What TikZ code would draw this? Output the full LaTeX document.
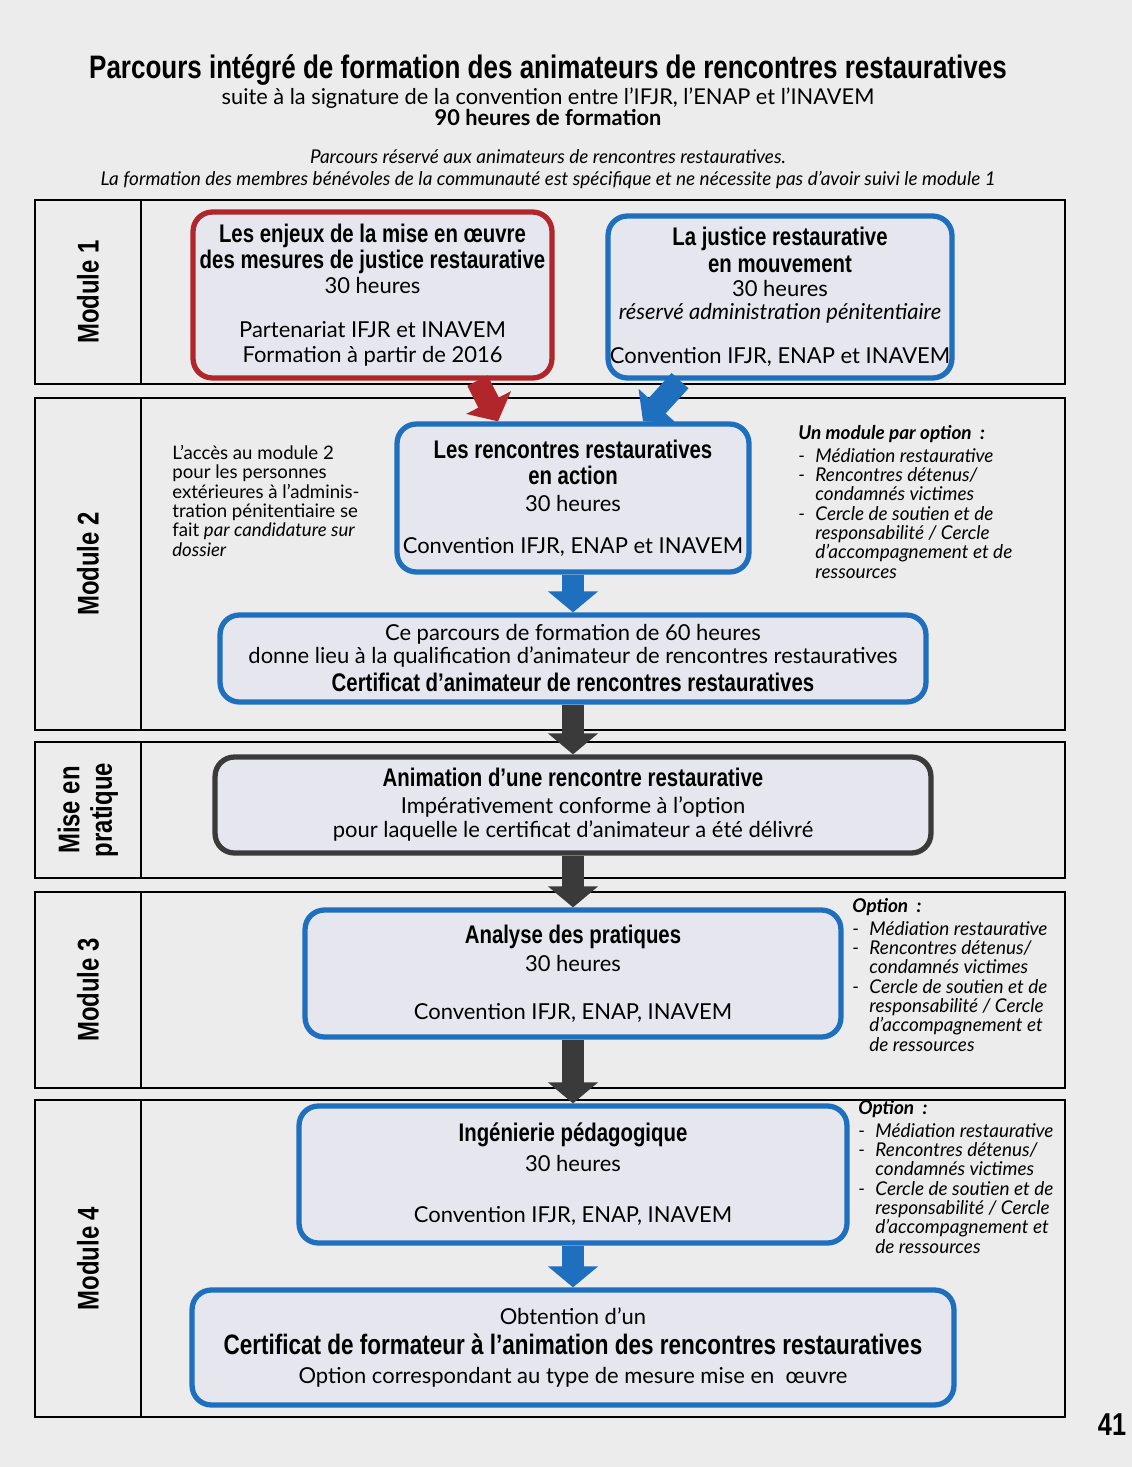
\documentclass[tikz,border=0pt]{standalone}
\usepackage{fontspec}
\setmainfont{Lato}
\newfontfamily\condfont[FakeStretch=0.8]{Liberation Sans}
\usetikzlibrary{arrows.meta,positioning,calc,fit}
\definecolor{paper}{HTML}{ECECEC}
\definecolor{cardfill}{HTML}{E6E6EE}
\definecolor{wine}{HTML}{B0262B}
\definecolor{sea}{HTML}{1F6FBF}
\definecolor{slate}{HTML}{3A3A3A}
\newcommand{\hd}{\condfont\bfseries\fontsize{14.5}{17}\selectfont}
\newcommand{\bodytxt}{\normalfont\fontsize{12.5}{14}\selectfont}
\newcommand{\optdash}{\makebox[0.9em][l]{-}}
\newcommand{\optin}{\hspace*{0.9em}}
\tikzset{>=Latex,rowframe/.style={draw=black,line width=.9pt,inner sep=0pt},modlabel/.style={rotate=90,font=\condfont\bfseries\fontsize{17}{18.5}\selectfont,align=center},card/.style={rounded corners=11pt,line width=3pt,fill=cardfill,align=center,inner sep=0pt,font=\bodytxt},redcard/.style={card,draw=wine},bluecard/.style={card,draw=sea},greycard/.style={card,draw=slate},note/.style={align=left,font=\itshape\fontsize{10.8}{11}\selectfont,anchor=north west,inner sep=0pt},flow/.style={line width=13pt,-{Triangle[width=28pt,length=12pt]}}}

\begin{document}
\begin{tikzpicture}[x=0.02cm,y=-0.02cm]
\useasboundingbox (0,0) rectangle (1132,1467);
\fill[paper] (0,0) rectangle (1132,1467);
% heading
\node[font=\condfont\bfseries\fontsize{18.5}{20}\selectfont,inner sep=0pt] (title) at (548,70) {Parcours intégré de formation des animateurs de rencontres restauratives};
\node[font=\fontsize{12.4}{14}\selectfont,below=1pt of title,inner sep=0pt] (sub) {suite à la signature de la convention entre l’IFJR, l’ENAP et l’INAVEM};
\node[font=\bfseries\fontsize{12.4}{14}\selectfont,below=0pt of sub,inner sep=0pt] (hours) {90 heures de formation};
\node[font=\itshape\fontsize{10.8}{12.5}\selectfont,align=center,below=13pt of hours,inner sep=0pt] (intro) {Parcours réservé aux animateurs de rencontres restauratives.\\La formation des membres bénévoles de la communauté est spécifique et ne nécessite pas d’avoir suivi le module 1};
% rows
\foreach \t/\b/\lab [count=\i] in {200/384/{Module 1},398/730/{Module 2},742/878/{Mise en\\pratique},892/1088/{Module 3},1100/1417/{Module 4}}{
  \node[rowframe,fit={(35,\t)(1065,\b)}] (row\i) {};
  \draw[line width=.9pt] ([xshift=2.14cm]row\i.north west) -- ([xshift=2.14cm]row\i.south west);
  \node[modlabel] (lab\i) at (88,{(\t+\b)/2}) {\lab};
}
% module 1
\node[redcard,minimum width=7.18cm,minimum height=3.32cm] (enjeux) at (372.5,295) {\hd Les enjeux de la mise en œuvre\\[1pt]\hd des mesures de justice restaurative\\30 heures\\[11pt]Partenariat IFJR et INAVEM\\Formation à partir de 2016};
\node[bluecard,minimum width=6.88cm,minimum height=3.24cm] (mouv) at (780,297) {\hd La justice restaurative\\[1pt]\hd en mouvement\\30 heures\\[-1pt]\textit{réservé administration pénitentiaire}\\[11pt]Convention IFJR, ENAP et INAVEM};
% module 2
\node[bluecard,minimum width=7.04cm,minimum height=2.96cm] (action) at (573,498) {\hd Les rencontres restauratives\\[1pt]\hd en action\\[1pt]30 heures\\[10pt]Convention IFJR, ENAP et INAVEM};
\node[note,font=\fontsize{10.6}{11}\selectfont] (acces) at (172,445) {L’accès au module 2\\pour les personnes\\extérieures à l’adminis-\\tration pénitentiaire se\\fait \textit{par candidature sur}\\\textit{dossier}};
\node[note] (opt2) at (798,425) {\textbf{Un module par option~ :}\\[2pt]\optdash Médiation restaurative\\\optdash Rencontres détenus/\\\optin condamnés victimes\\\optdash Cercle de soutien et de\\\optin responsabilité / Cercle\\\optin d’accompagnement et de\\\optin ressources};
\node[bluecard,minimum width=14.12cm,minimum height=1.74cm] (cert) at (573,658.5) {Ce parcours de formation de 60 heures\\[-1pt]donne lieu à la qualification d’animateur de rencontres restauratives\\[2pt]\hd Certificat d’animateur de rencontres restauratives};
% mise en pratique
\node[greycard,minimum width=14.32cm,minimum height=1.92cm] (mep) at (573,805) {\hd Animation d’une rencontre restaurative\\[1pt]Impérativement conforme à l’option\\pour laquelle le certificat d’animateur a été délivré};
% module 3
\node[bluecard,minimum width=10.72cm,minimum height=2.54cm] (ana) at (573,973.5) {\hd Analyse des pratiques\\[2pt]30 heures\\[13pt]Convention IFJR, ENAP, INAVEM};
\node[note] (opt3) at (852,898) {\textbf{Option~ :}\\[2pt]\optdash Médiation restaurative\\\optdash Rencontres détenus/\\\optin condamnés victimes\\\optdash Cercle de soutien et de\\\optin responsabilité / Cercle\\\optin d’accompagnement et\\\optin de ressources};
% module 4
\node[bluecard,minimum width=10.96cm,minimum height=2.74cm] (inge) at (573,1174.5) {\hd Ingénierie pédagogique\\[3pt]30 heures\\[15pt]Convention IFJR, ENAP, INAVEM};
\node[note] (opt4) at (858,1100) {\textbf{Option~ :}\\[2pt]\optdash Médiation restaurative\\\optdash Rencontres détenus/\\\optin condamnés victimes\\\optdash Cercle de soutien et de\\\optin responsabilité / Cercle\\\optin d’accompagnement et\\\optin de ressources};
\node[bluecard,minimum width=15.24cm,minimum height=2.3cm] (final) at (573,1347.5) {Obtention d’un\\[3pt]\condfont\bfseries\fontsize{16}{18}\selectfont Certificat de formateur à l’animation des rencontres restauratives\\[3pt]Option correspondant au type de mesure mise en~ œuvre};
% arrows
\draw[flow,wine] ([xshift=2.1cm]enjeux.south) -- ([xshift=-1.5cm]action.north);
\draw[flow,sea] ([xshift=-2cm]mouv.south) -- ([xshift=1.4cm]action.north);
\draw[flow,sea] (action.south) -- (cert.north);
\draw[flow,slate] (cert.south) -- (mep.north);
\draw[flow,slate] (mep.south) -- (ana.north);
\draw[flow,slate] (ana.south) -- (inge.north);
\draw[flow,sea] (inge.south) -- (final.north);
\node[font=\condfont\bfseries\fontsize{18}{20}\selectfont] (page) at (1112,1425) {41};
\end{tikzpicture}
\end{document}
